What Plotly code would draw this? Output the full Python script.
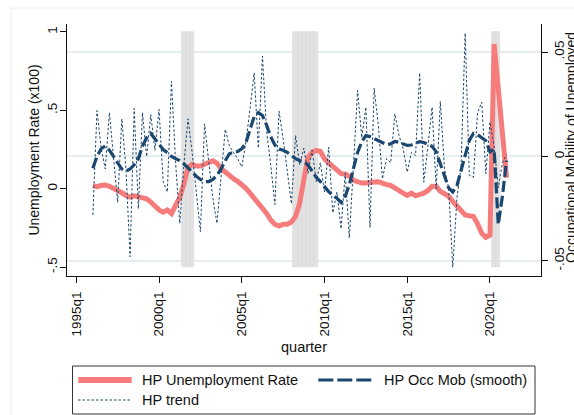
import plotly.graph_objects as go

# Quarterly index in Stata %tq units (1960q1 = 0); series run 1996q1-2021q1
first_quarter = 144

hp_unemployment = [
    0.02, 0.013, 0.02, 0.024, 0.015, 0.004, -0.011, -0.026, -0.043, -0.054,
    -0.045, -0.05, -0.056, -0.064, -0.085, -0.112, -0.135, -0.15, -0.136, -0.158,
    -0.11, -0.055, 0.03, 0.135, 0.155, 0.145, 0.145, 0.158, 0.17, 0.178,
    0.163, 0.128, 0.107, 0.08, 0.064, 0.047, 0.027, 0.002, -0.028, -0.058,
    -0.092, -0.118, -0.158, -0.2, -0.228, -0.238, -0.226, -0.226, -0.212, -0.177,
    -0.092, 0.058, 0.2, 0.232, 0.244, 0.238, 0.19, 0.165, 0.143, 0.111,
    0.096, 0.094, 0.079, 0.053, 0.041, 0.036, 0.036, 0.036, 0.043, 0.045,
    0.032, 0.026, 0.021, 0.004, -0.019, -0.028, -0.043, -0.028, -0.045, -0.038,
    -0.028, -0.011, 0.015, 0.015, -0.017, -0.032, -0.049, -0.081, -0.113, -0.139,
    -0.167, -0.173, -0.177, -0.224, -0.284, -0.31, -0.295, 0.923, 0.62, 0.34,
    0.07,
]

hp_occmob_smooth = [
    -0.0056, 0.0, 0.0037, 0.005, 0.003, 0.0, -0.003, -0.006, -0.007, -0.006,
    -0.004, -0.001, 0.005, 0.009, 0.011, 0.0085, 0.0056, 0.0033, 0.0018, 0.0,
    -0.001, -0.002, -0.0035, -0.0056, -0.0075, -0.0094, -0.011, -0.012, -0.012, -0.011,
    -0.009, -0.006, -0.002, 0.0013, 0.002, 0.0024, 0.0037, 0.0065, 0.013, 0.019,
    0.021, 0.0196, 0.015, 0.0095, 0.0055, 0.0035, 0.003, 0.002, 0.0005, -0.001,
    -0.002, -0.0025, -0.004, -0.007, -0.010, -0.012, -0.0145, -0.0168, -0.0187, -0.020,
    -0.022, -0.019, -0.0135, -0.0055, 0.002, 0.007, 0.010, 0.0095, 0.0085, 0.0077,
    0.0065, 0.0057, 0.006, 0.0072, 0.0068, 0.0059, 0.0053, 0.0055, 0.0062, 0.0071,
    0.0067, 0.006, 0.0049, 0.0022, -0.0035, -0.0099, -0.015, -0.017, -0.014, -0.0067,
    0.0012, 0.0077, 0.011, 0.0104, 0.009, 0.0075, 0.0022, 0.0035, -0.0325, -0.019,
    -0.002,
]

hp_trend = [
    -0.028, 0.022, 0.004, -0.006, 0.021, -0.001, -0.022, 0.018, -0.006, -0.048,
    0.023, -0.025, 0.021, 0.0, 0.020, 0.003, 0.0225, -0.012, -0.017, 0.036,
    -0.003, -0.032, -0.004, 0.018, 0.002, -0.017, -0.036, 0.0156, -0.004, -0.020,
    -0.032, -0.009, 0.013, 0.005, 0.002, -0.001, -0.005, 0.007, 0.023, 0.040,
    0.004, 0.048, 0.012, -0.004, -0.023, 0.0217, 0.0085, -0.006, -0.0226, 0.010,
    -0.004, 0.004, -0.008, 0.003, -0.012, -0.003, -0.017, 0.0045, -0.027, -0.017,
    -0.0346, -0.008, -0.039, -0.004, 0.0316, 0.009, 0.0236, -0.034, 0.0327, 0.015,
    -0.0107, -0.001, -0.003, 0.0204, 0.010, 0.004, -0.0075, 0.002, 0.0005, 0.040,
    -0.0123, 0.005, 0.0236, -0.0155, 0.0263, -0.006, -0.015, -0.053, -0.02, -0.005,
    0.059, -0.009, -0.010, 0.021, 0.026, -0.0083, 0.0165, 0.005, -0.015, -0.003,
    0.001,
]

quarters = list(range(first_quarter, first_quarter + len(hp_unemployment)))

# Recession quarters shaded as bars spanning -.5 to 1 on the left axis
recession_quarters = [166, 167, 168, 193, 194, 195, 196, 197, 198, 241, 242]
band_bottom = -0.5
band_top = 1.0

x_tick_vals = [140, 160, 180, 200, 220, 240]
x_tick_text = ["1995q1", "2000q1", "2005q1", "2010q1", "2015q1", "2020q1"]
y_tick_vals = [-0.5, 0, 0.5, 1]
y_tick_text = ["-.5", "0", ".5", "1"]
y2_tick_vals = [-0.05, 0, 0.05]
y2_tick_text = ["-.05", "0", ".05"]

FONT = "Liberation Sans, Arial, sans-serif"
INK = "#111111"
PINK = "#f67c7c"
NAVY = "#1a476f"

W, H = 574, 415
ML, MR, MT, MB = 67, 33, 24, 139
PW, PH = W - ML - MR, H - MT - MB


def px(x):
    return (x - ML) / PW


def py(y):
    return (H - MB - y) / PH


fig = go.Figure()

fig.add_trace(go.Bar(
    x=recession_quarters,
    y=[band_top - band_bottom] * len(recession_quarters),
    base=band_bottom,
    width=1,
    marker=dict(color="#e2e2e2", line=dict(color="#d8d8d8", width=0.6)),
    yaxis="y",
    showlegend=False,
    hoverinfo="skip",
))

fig.add_trace(go.Scatter(
    x=quarters, y=hp_unemployment, mode="lines", name="HP Unemployment Rate",
    line=dict(color=PINK, width=5), yaxis="y", showlegend=False,
))

fig.add_trace(go.Scatter(
    x=quarters, y=hp_trend, mode="lines", name="HP trend",
    line=dict(color=NAVY, width=1, dash="2.5px,2px"), yaxis="y2", showlegend=False,
))

fig.add_trace(go.Scatter(
    x=quarters, y=hp_occmob_smooth, mode="lines", name="HP Occ Mob (smooth)",
    line=dict(color=NAVY, width=3.2, dash="11px,4px"), yaxis="y2", showlegend=False,
))

axis_common = dict(
    showline=True, linecolor=INK, linewidth=1,
    ticks="outside", ticklen=6, tickcolor=INK, tickwidth=1,
    zeroline=False,
    tickfont=dict(family=FONT, size=13.5, color=INK),
)

shapes = [
    # faint outer frame of the graph region
    dict(type="rect", xref="paper", yref="paper",
         x0=px(11), x1=px(590), y0=py(430), y1=py(8),
         line=dict(color="#e8edf0", width=1), fillcolor="rgba(0,0,0,0)", layer="below"),
    # legend box
    dict(type="rect", xref="paper", yref="paper",
         x0=px(72.5), x1=px(535), y0=py(414), y1=py(366),
         line=dict(color="#333333", width=1), fillcolor="white"),
    dict(type="line", xref="paper", yref="paper",
         x0=px(78.3), x1=px(131.7), y0=py(380), y1=py(380),
         line=dict(color=PINK, width=6)),
    dict(type="line", xref="paper", yref="paper",
         x0=px(318.3), x1=px(373.3), y0=py(380), y1=py(380),
         line=dict(color=NAVY, width=3.2, dash="15px,4px")),
    dict(type="line", xref="paper", yref="paper",
         x0=px(78), x1=px(132), y0=py(400), y1=py(400),
         line=dict(color=NAVY, width=1, dash="2.5px,2px")),
]

legend_font = dict(family=FONT, size=14.5, color=INK)
annotations = [
    dict(text="HP Unemployment Rate", x=px(140), y=py(380), xref="paper", yref="paper",
         xanchor="left", yanchor="middle", showarrow=False, font=legend_font),
    dict(text="HP Occ Mob (smooth)", x=px(381.7), y=py(380), xref="paper", yref="paper",
         xanchor="left", yanchor="middle", showarrow=False, font=legend_font),
    dict(text="HP trend", x=px(140), y=py(400), xref="paper", yref="paper",
         xanchor="left", yanchor="middle", showarrow=False, font=legend_font),
    # right-axis title, running off the right edge of the graph
    dict(text="Occupational Mobility of Unemployed", x=px(571), y=py(148),
         xref="paper", yref="paper", xanchor="center", yanchor="middle",
         textangle=-90, showarrow=False, font=dict(family=FONT, size=14, color=INK)),
]

fig.update_layout(
    width=W, height=H, autosize=False,
    margin=dict(l=ML, r=MR, t=MT, b=MB, pad=0),
    paper_bgcolor="white", plot_bgcolor="white",
    font=dict(family=FONT, color=INK),
    showlegend=False,
    bargap=0,
    xaxis=dict(
        axis_common,
        range=[137.75, 252.33],
        tickvals=x_tick_vals, ticktext=x_tick_text, tickangle=-90,
        ticklabelstandoff=3,
        showgrid=False,
        title=dict(text="quarter", font=dict(family=FONT, size=14.5, color=INK), standoff=6),
        automargin=False,
    ),
    yaxis=dict(
        axis_common,
        range=[-0.557, 1.051],
        tickvals=y_tick_vals, ticktext=y_tick_text, tickangle=-90,
        ticklabelstandoff=-2,
        showgrid=False,
        title=dict(text="Unemployment Rate (x100)", font=dict(family=FONT, size=14, color=INK), standoff=1),
        automargin=False,
    ),
    yaxis2=dict(
        axis_common,
        range=[-0.0572, 0.0634],
        tickvals=y2_tick_vals, ticktext=y2_tick_text, tickangle=-90,
        overlaying="y", side="right",
        showgrid=True, gridcolor="#e6edf0", gridwidth=1.5,
        automargin=False,
    ),
    shapes=shapes,
    annotations=annotations,
)

fig.write_html("out.html")
